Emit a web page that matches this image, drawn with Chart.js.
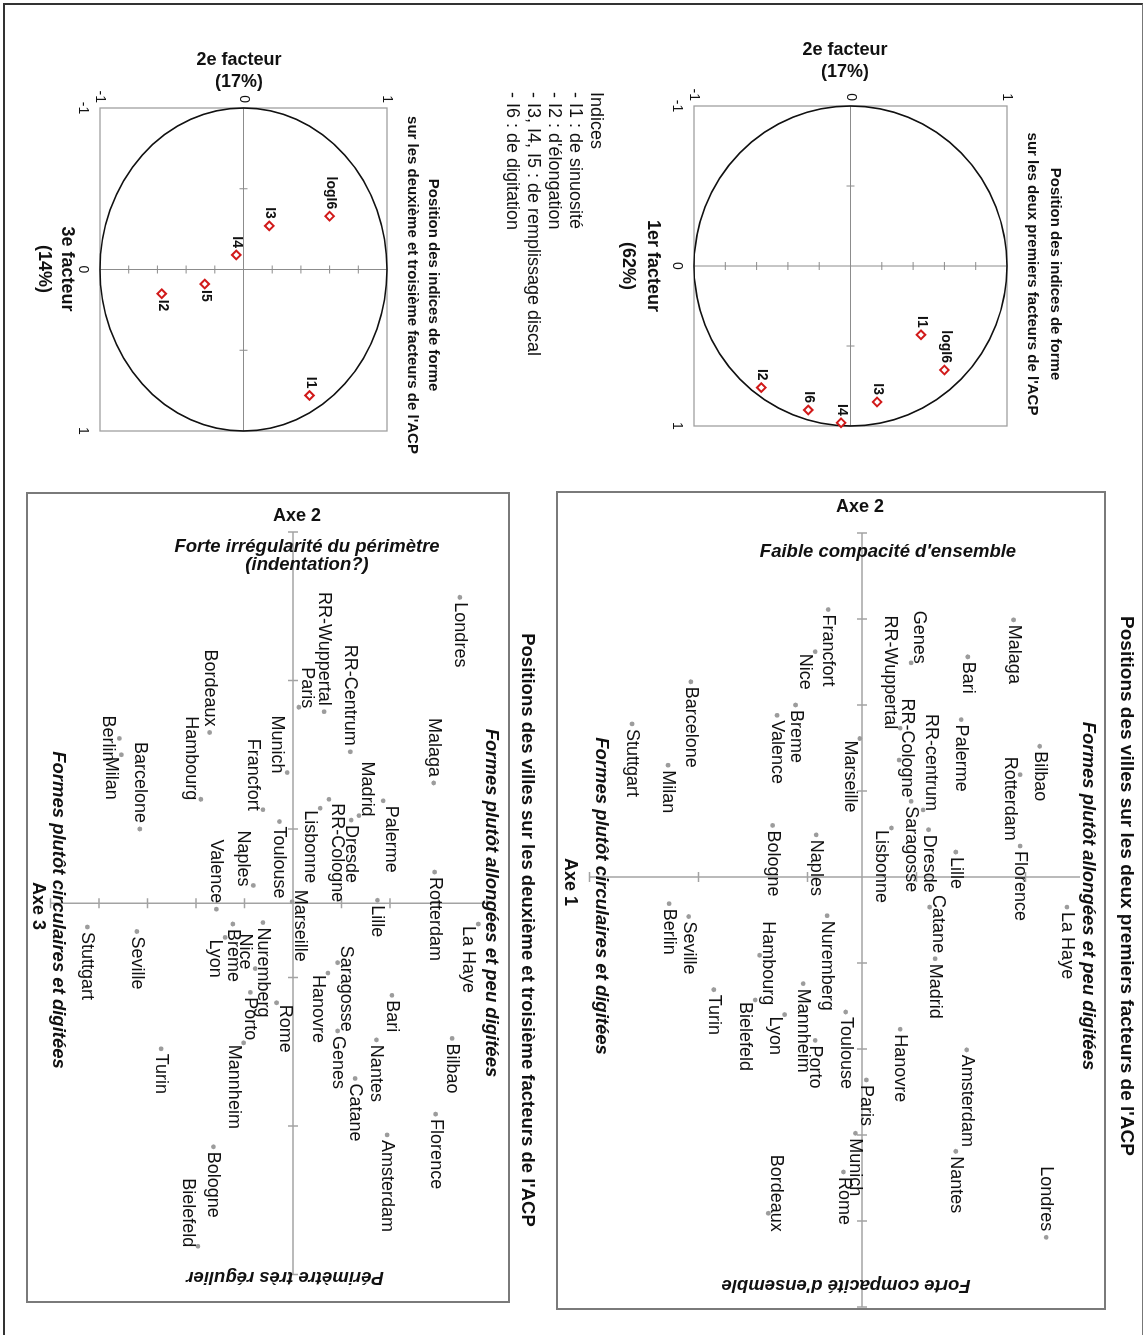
<!DOCTYPE html>
<html lang="fr">
<head>
<meta charset="utf-8">
<title>ACP - indices de forme des villes</title>
<script src="https://cdn.jsdelivr.net/npm/chart.js@4.4.1/dist/chart.umd.min.js"></script>
<style>
  html, body { margin: 0; padding: 0; background: #fff; overflow: hidden; }
  /* la figure est dessinee a plat (1335 x 1147) puis tournee d'un quart de tour */
  #page {
    position: absolute; left: 0; top: 0;
    width: 1335px; height: 1147px;
    transform-origin: 0 0;
    transform: translate(1147px, 0) rotate(90deg);
    background: #fff;
  }
  #page canvas { position: absolute; left: 0; top: 0; }
  #bord {
    position: absolute; left: 3px; top: 4px; width: 1332px; height: 1140px;
    box-sizing: border-box;
    border-left: 2px solid #333; border-top: 1px solid #777; border-bottom: 2px solid #333;
  }
</style>
</head>
<body>
<div id="page">
  <div id="bord"></div>
  <canvas id="cercle12" width="1335" height="1147"></canvas>
  <canvas id="cercle23" width="1335" height="1147"></canvas>
  <canvas id="villes12" width="1335" height="1147"></canvas>
  <canvas id="villes23" width="1335" height="1147"></canvas>
</div>
<script>
// ---- cercle des correlations, facteurs 1 et 2 ----
var indices12 = ['I1', 'logI6', 'I3', 'I4', 'I6', 'I2'];
var fact1_12 = [0.43, 0.65, 0.85, 0.98, 0.90, 0.76];
var fact2_12 = [0.45, 0.60, 0.17, -0.06, -0.27, -0.57];

// ---- cercle des correlations, facteurs 2 et 3 ----
var indices23 = ['logI6', 'I3', 'I4', 'I5', 'I2', 'I1'];
var fact3_23 = [-0.33, -0.27, -0.09, 0.09, 0.15, 0.78];
var fact2_23 = [0.60, 0.18, -0.05, -0.27, -0.57, 0.46];

var cercleGrad = [-1, 0, 1];
var cercleTicksX = [-0.5, 0.5];
var cercleTicksY = [-0.8, -0.6, -0.4, -0.2, 0.2, 0.4, 0.6, 0.8];

var legende = ['Indices', '- I1 : de sinuosit\u00e9', "- I2 : d'\u00e9longation",
  '- I3, I4, I5 : de remplissage discal', '- I6 : de digitation'];

// ---- villes, axes 1 et 2 ----
var villes12 = ['Malaga', 'Bari', 'Genes', 'RR-Wuppertal', 'RR-Cologne', 'Palerme', 'RR-centrum',
  'Bilbao', 'Rotterdam', 'Saragosse', 'Dresde', 'Lisbonne', 'Lille', 'Florence', 'Catane',
  'La Haye', 'Madrid', 'Marseille', 'Francfort', 'Nice', 'Breme', 'Valence', 'Barcelone',
  'Stuttgart', 'Milan', 'Naples', 'Bologne', 'Berlin', 'Seville', 'Nuremberg', 'Hambourg',
  'Turin', 'Mannheim', 'Lyon', 'Bielefeld', 'Toulouse', 'Porto', 'Hanovre', 'Paris',
  'Amsterdam', 'Munich', 'Nantes', 'Rome', 'Bordeaux', 'Londres'];
var axe1_12 = [1.39, 0.97, 0.45, 0.35, 0.34, 0.91, 0.56, 1.63, 1.45, 0.45, 0.61, 0.27, 0.86, 1.45,
  0.62, 1.88, 0.67, -0.02, -0.31, -0.43, -0.61, -0.78, -1.57, -2.11, -1.78, -0.42, -0.82, -1.77,
  -1.59, -0.32, -0.94, -1.36, -0.54, -0.71, -0.98, -0.15, -0.43, 0.35, 0.04, 0.96, -0.06, 0.86,
  -0.17, -0.86, 1.69];
var axe2_12 = [2.99, 2.56, 2.49, 1.73, 1.36, 1.83, 0.78, 1.52, 1.19, 0.88, 0.55, 0.57, 0.29, 0.36,
  -0.35, -0.35, -0.95, 1.61, 3.11, 2.62, 2.00, 1.88, 2.27, 1.78, 1.30, 0.49, 0.60, -0.31, -0.46,
  -0.45, -0.91, -1.31, -1.24, -1.60, -1.43, -1.57, -1.90, -1.77, -2.36, -2.01, -2.98, -3.19,
  -3.43, -3.91, -4.19];
var ticksAxe2_12 = [-5, -4, -3, -2, -1, 1, 2, 3, 4];
var ticksAxe1_12 = [-2.5, -1.5, -0.5, 0.5, 1.5];
// place de l'etiquette : R droite, L gauche, A dessus, AL/AR dessus, BL/BR/B dessous
// (":n" = decalage horizontal particulier)
var place12 = ['R', 'R', 'AL', 'BL', 'A:-12', 'R', 'AL', 'R', 'BR:-18', 'R', 'R', 'BR', 'R', 'R',
  'AR:-12', 'R', 'R', 'BR', 'R', 'BR', 'R', 'R', 'R', 'R', 'R', 'R', 'R', 'R', 'R', 'R', 'A:8',
  'R', 'R', 'BR', 'BR', 'R', 'R', 'R', 'R', 'R', 'R', 'R', 'R', 'A:-20', 'L'];

// ---- villes, axes 2 et 3 ----
var villes23 = ['Londres', 'Malaga', 'Rotterdam', 'La Haye', 'Bilbao', 'Florence', 'Palerme',
  'Lille', 'Bari', 'Nantes', 'Amsterdam', 'RR-Centrum', 'Madrid', 'Dresde', 'Saragosse',
  'Hanovre', 'Genes', 'Catane', 'RR-Wuppertal', 'Paris', 'RR-Cologne', 'Lisbonne', 'Marseille',
  'Rome', 'Munich', 'Toulouse', 'Nuremberg', 'Nice', 'Porto', 'Breme', 'Lyon', 'Mannheim',
  'Naples', 'Valence', 'Francfort', 'Hambourg', 'Bordeaux', 'Bologne', 'Bielefeld', 'Barcelone',
  'Seville', 'Turin', 'Berlin', 'Milan', 'Stuttgart'];
var axe3_23 = [1.72, 1.45, 1.46, 1.91, 1.64, 1.47, 0.93, 0.87, 1.02, 0.86, 0.97, 0.59, 0.68, 0.60,
  0.46, 0.36, 0.46, 0.64, 0.32, 0.06, 0.37, 0.28, -0.01, -0.17, -0.06, -0.14, -0.31, -0.39,
  -0.44, -0.62, -0.70, -0.51, -0.41, -0.79, -0.31, -0.95, -0.86, -0.82, -0.98, -1.58, -1.61,
  -1.36, -1.79, -1.77, -2.12];
var axe2_23 = [2.06, 0.81, 0.21, -0.14, -0.91, -1.42, 0.69, 0.02, -0.62, -0.92, -1.56, 1.02, 0.59,
  0.56, -0.40, -0.47, -0.86, -1.18, 1.29, 1.32, 0.70, 0.64, 0.01, -0.67, 0.88, 0.55, -0.13,
  -0.44, -0.60, -0.14, -0.23, -0.94, 0.12, -0.04, 0.63, 0.70, 1.15, -1.64, -2.31, 0.50, -0.19,
  -0.98, 1.11, 1.00, -0.16];
var ticksAxe2_23 = [-2.5, -1.5, -0.5, 0.5, 1.5, 2.5];
var ticksAxe3_23 = [-2.5, -2, -1.5, -1, -0.5, 0.5, 1, 1.5, 2];
var place23 = ['R', 'L', 'R', 'BR', 'R', 'R', 'AR:5', 'R', 'R', 'R', 'R', 'L', 'AL', 'R', 'AR:-17',
  'BR', 'R', 'R', 'L', 'AL', 'AR:4', 'BR', 'AR:-12', 'AR:2', 'BL', 'R', 'R', 'BL', 'R', 'R', 'BR',
  'BR', 'BL', 'L', 'BL', 'BL', 'L', 'R', 'BL', 'L', 'R', 'R', 'B', 'BR', 'R'];

var FAM = '"Liberation Sans", Arial, Helvetica, sans-serif';
var QUART = Math.PI / 2;

function police(style, size) { return style + ' ' + size + 'px ' + FAM; }

function pts(xs, ys) {
  return xs.map(function (v, i) { return { x: v, y: ys[i] }; });
}

function ecrire(ctx, s, x, y, font, align, base, rot) {
  ctx.save();
  ctx.translate(x, y);
  if (rot) ctx.rotate(rot);
  ctx.font = font;
  ctx.fillStyle = '#111';
  ctx.textAlign = align || 'center';
  ctx.textBaseline = base || 'middle';
  ctx.fillText(s, 0, 0);
  ctx.restore();
}

function seg(ctx, x1, y1, x2, y2) {
  ctx.beginPath();
  ctx.moveTo(x1, y1);
  ctx.lineTo(x2, y2);
  ctx.stroke();
}

function etiquette(ctx, s, px, py, code) {
  var parts = code.split(':'), p = parts[0];
  var a = 'left', b = 'middle', dx = 5, dy = 0;
  if (p === 'L') { a = 'right'; dx = -6; }
  else if (p === 'AL') { a = 'right'; b = 'alphabetic'; dx = 1; dy = -3; }
  else if (p === 'AR') { b = 'alphabetic'; dx = -4; dy = -3; }
  else if (p === 'A') { a = 'center'; b = 'alphabetic'; dx = 0; dy = -3; }
  else if (p === 'BL') { a = 'right'; b = 'top'; dx = 1; dy = 1; }
  else if (p === 'BR') { b = 'top'; dx = 2; dy = 1; }
  else if (p === 'B') { a = 'center'; b = 'top'; dx = 0; dy = 2; }
  if (parts.length > 1) dx = parseFloat(parts[1]);
  ecrire(ctx, s, px + dx, py + dy, police('normal', 18), a, b);
}

function baseOptions(pad, sx, sy) {
  return {
    responsive: false, animation: false, devicePixelRatio: 1, events: [],
    layout: { padding: pad },
    scales: { x: sx, y: sy },
    plugins: { legend: { display: false }, tooltip: { enabled: false } }
  };
}

function cercleChart(id, pad, noms, xs, ys, cotes, textes, extra) {
  return new Chart(document.getElementById(id), {
    type: 'scatter',
    data: {
      datasets: [{
        data: pts(xs, ys), pointStyle: 'rectRot', pointRadius: 4.3,
        borderColor: '#d11a1a', backgroundColor: '#fff', borderWidth: 2, clip: false
      }]
    },
    options: baseOptions(pad,
      { type: 'linear', min: -1, max: 1, display: false },
      { type: 'linear', min: -1, max: 1, display: false }),
    plugins: [{
      id: 'cercle',
      beforeDatasetsDraw: function (chart) {
        var ctx = chart.ctx, a = chart.chartArea, sx = chart.scales.x, sy = chart.scales.y;
        var x0 = sx.getPixelForValue(0), y0 = sy.getPixelForValue(0);
        ctx.save();
        ctx.strokeStyle = '#a0a0a0';
        ctx.lineWidth = 1.3;
        ctx.strokeRect(a.left, a.top, a.right - a.left, a.bottom - a.top);
        ctx.strokeStyle = '#8c8c8c';
        ctx.lineWidth = 1;
        seg(ctx, a.left, y0, a.right, y0);
        seg(ctx, x0, a.top, x0, a.bottom);
        cercleTicksX.forEach(function (v) {
          var p = sx.getPixelForValue(v);
          seg(ctx, p, y0 - 4, p, y0 + 4);
        });
        cercleTicksY.forEach(function (v) {
          var p = sy.getPixelForValue(v);
          seg(ctx, x0 - 4, p, x0 + 4, p);
        });
        ctx.strokeStyle = '#111';
        ctx.lineWidth = 1.6;
        ctx.beginPath();
        ctx.ellipse(x0, y0, sx.getPixelForValue(1) - x0, y0 - sy.getPixelForValue(1), 0, 0, 2 * Math.PI);
        ctx.stroke();
        cercleGrad.forEach(function (v) {
          ecrire(ctx, String(v), sx.getPixelForValue(v), a.bottom + 17, police('normal', 14), 'center', 'middle');
          ecrire(ctx, String(v), a.left - 5, sy.getPixelForValue(v), police('normal', 14), 'right', 'middle');
        });
        ctx.restore();
      },
      afterDatasetsDraw: function (chart) {
        var ctx = chart.ctx, meta = chart.getDatasetMeta(0);
        meta.data.forEach(function (el, i) {
          var droite = cotes[i] === 'R';
          ecrire(ctx, noms[i], el.x + (droite ? 6 : -7), el.y - 1, police('bold', 14), droite ? 'left' : 'right', 'middle');
        });
        textes.forEach(function (t) {
          ecrire(ctx, t[0], t[1], t[2], t[3], 'center', 'middle', t[4]);
        });
        if (extra) extra(ctx);
      }
    }]
  });
}

function villesChart(id, pad, noms, xs, ys, places, sx, sy, ticksH, ticksV, cadre, textes) {
  return new Chart(document.getElementById(id), {
    type: 'scatter',
    data: {
      datasets: [{
        data: pts(xs, ys), pointStyle: 'circle', pointRadius: 2.4,
        backgroundColor: '#9c9c9c', borderWidth: 0, clip: false
      }]
    },
    options: baseOptions(pad, sx, sy),
    plugins: [{
      id: 'villes',
      beforeDatasetsDraw: function (chart) {
        var ctx = chart.ctx, a = chart.chartArea, X = chart.scales.x, Y = chart.scales.y;
        var x0 = X.getPixelForValue(0), y0 = Y.getPixelForValue(0);
        ctx.save();
        ctx.strokeStyle = '#7a7a7a';
        ctx.lineWidth = 2;
        ctx.strokeRect(cadre[0], cadre[1], cadre[2] - cadre[0], cadre[3] - cadre[1]);
        ctx.strokeStyle = '#a3a3a3';
        ctx.lineWidth = 1.5;
        seg(ctx, a.left, y0, a.right, y0);
        seg(ctx, x0, a.top, x0, a.bottom);
        ticksH.forEach(function (v) {
          var p = X.getPixelForValue(v);
          seg(ctx, p, y0 - 5, p, y0 + 5);
        });
        ticksV.forEach(function (v) {
          var p = Y.getPixelForValue(v);
          seg(ctx, x0 - 5, p, x0 + 5, p);
        });
        ctx.restore();
      },
      afterDatasetsDraw: function (chart) {
        var ctx = chart.ctx, meta = chart.getDatasetMeta(0);
        meta.data.forEach(function (el, i) {
          etiquette(ctx, noms[i], el.x, el.y, places[i]);
        });
        textes.forEach(function (t) {
          ecrire(ctx, t[0], t[1], t[2], t[3], 'center', 'middle', t[4]);
        });
      }
    }]
  });
}

var gras18 = police('bold', 18);
var italGras = police('italic bold', 18.5);

cercleChart('cercle12', { left: 106, right: 909, top: 140, bottom: 694 },
  indices12, fact1_12, fact2_12, ['L', 'L', 'L', 'L', 'L', 'L'], [
    ['Position des indices de forme', 274, 92, police('bold', 15), 0],
    ["sur les deux premiers facteurs de l'ACP", 274, 115, police('bold', 15), 0],
    ['1er facteur', 266, 494, gras18, 0],
    ['(62%)', 266, 519, gras18, 0],
    ['2e facteur', 50, 302, gras18, -QUART],
    ['(17%)', 72, 302, gras18, -QUART]
  ]);

cercleChart('cercle23', { left: 108, right: 904, top: 760, bottom: 100 },
  indices23, fact3_23, fact2_23, ['L', 'L', 'L', 'R', 'R', 'L'], [
    ['Position des indices de forme', 285, 714, police('bold', 15), 0],
    ["sur les deuxi\u00e8me et troisi\u00e8me facteurs de l'ACP", 285, 735, police('bold', 15), 0],
    ['3e facteur', 269, 1080, gras18, 0],
    ['(14%)', 269, 1103, gras18, 0],
    ['2e facteur', 60, 908, gras18, -QUART],
    ['(17%)', 82, 908, gras18, -QUART]
  ], function (ctx) {
    legende.forEach(function (l, i) {
      ecrire(ctx, l, 92, 551 + 21 * i, police('normal', 18), 'left', 'middle');
    });
  });

villesChart('villes12', { left: 533, right: 28, top: 67, bottom: 589.5 },
  villes12, axe2_12, axe1_12, place12,
  { type: 'linear', min: -5, max: 4, reverse: true, display: false },
  { type: 'linear', min: -2.5, max: 2, display: false },
  ticksAxe2_12, ticksAxe1_12, [492, 42, 1309, 590], [
    ["Positions des villes sur les deux premiers facteurs de l'ACP", 886, 21, police('bold', 19), 0],
    ['Formes plut\u00f4t allong\u00e9es et peu digit\u00e9es', 896, 59, italGras, 0],
    ['Formes plut\u00f4t circulaires et digit\u00e9es', 896, 546, italGras, 0],
    ['Axe 1', 882, 577, gras18, 0],
    ['Axe 2', 507, 287, gras18, -QUART],
    ["Faible compacit\u00e9 d'ensemble", 552, 259, italGras, -QUART],
    ["Forte compacit\u00e9 d'ensemble", 1285, 301, italGras, QUART]
  ]);

villesChart('villes23', { left: 532, right: 60.5, top: 660, bottom: 50.5 },
  villes23, axe2_23, axe3_23, place23,
  { type: 'linear', min: -2.5, max: 2.5, reverse: true, display: false },
  { type: 'linear', min: -2.5, max: 2, display: false },
  ticksAxe2_23, ticksAxe3_23, [493, 638, 1302, 1120], [
    ["Positions des villes sur les deuxi\u00e8me et troisi\u00e8me facteurs de l'ACP", 930, 620, police('bold', 18.5), 0],
    ['Formes plut\u00f4t allong\u00e9es et peu digit\u00e9es', 903, 656, italGras, 0],
    ['Formes plut\u00f4t circulaires et digit\u00e9es', 910, 1089, italGras, 0],
    ['Axe 3', 906, 1109, gras18, 0],
    ['Axe 2', 516, 850, gras18, -QUART],
    ['Forte irr\u00e9gularit\u00e9 du p\u00e9rim\u00e8tre', 547, 840, italGras, -QUART],
    ['(indentation?)', 565, 840, italGras, -QUART],
    ['P\u00e9rim\u00e8tre tr\u00e8s r\u00e9gulier', 1277, 862, italGras, QUART]
  ]);
</script>
</body>
</html>
